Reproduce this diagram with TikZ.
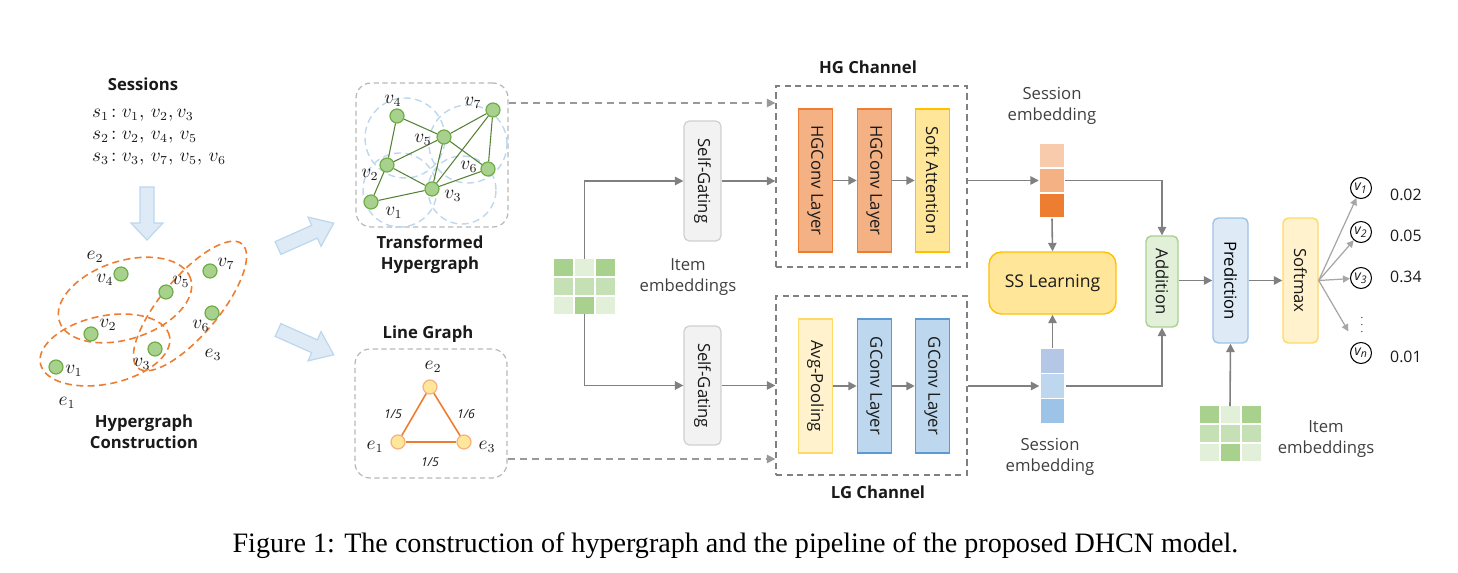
\documentclass[tikz,border=0pt]{standalone}
\usepackage{fontspec}
\setmainfont{Liberation Serif}
\setsansfont{Open Sans}
\usetikzlibrary{arrows.meta,calc}
\definecolor{gfill}{HTML}{A9D18E}
\definecolor{gdraw}{HTML}{70AD47}
\definecolor{gmid}{HTML}{C5E0B4}
\definecolor{glight}{HTML}{E2F0D9}
\definecolor{gedge}{HTML}{548235}
\definecolor{org}{HTML}{ED7D31}
\definecolor{orgmid}{HTML}{F4B183}
\definecolor{orglight}{HTML}{F8CBAD}
\definecolor{yel}{HTML}{FFE699}
\definecolor{yeldraw}{HTML}{FFC000}
\definecolor{yellight}{HTML}{FFF2CC}
\definecolor{yellightdraw}{HTML}{FFD966}
\definecolor{blu}{HTML}{BDD7EE}
\definecolor{bludraw}{HTML}{5B9BD5}
\definecolor{blulight}{HTML}{DEEBF7}
\definecolor{blumid}{HTML}{9DC3E6}
\definecolor{bluvec}{HTML}{B4C7E7}
\definecolor{arrgray}{HTML}{808080}
\definecolor{boxgray}{HTML}{A6A6A6}
\definecolor{sggray}{HTML}{F2F2F2}
\definecolor{sgdraw}{HTML}{D0D0D0}
\definecolor{txt}{HTML}{1A1A1A}
\definecolor{txtlight}{HTML}{404040}
\begin{document}
\begin{tikzpicture}[x=0.02cm,y=-0.02cm,
  font=\sffamily\fontsize{9.5}{12}\selectfont, text=txt,
  arr/.style={draw=arrgray,line width=0.9pt,-{Triangle[length=4.8pt,width=4.8pt]}},
  darr/.style={draw=arrgray!80,line width=0.9pt,dash pattern=on 4pt off 3pt,-{Triangle[length=4.8pt,width=4.8pt]}},
  oarr/.style={draw=boxgray,line width=0.7pt,-{Triangle[length=4pt,width=4pt]}},
  title/.style={font=\sffamily\bfseries\fontsize{9.5}{12}\selectfont,align=center},
  mlbl/.style={font=\fontsize{10.5}{12}\selectfont,inner sep=1pt},
  gn/.style={circle,fill=gfill,draw=gdraw,line width=0.7pt,minimum size=0.28cm,inner sep=0pt},
  yn/.style={circle,fill=yel,draw=orgmid,line width=0.7pt,minimum size=0.28cm,inner sep=0pt},
  hedge/.style={draw=org,line width=0.9pt,dash pattern=on 4pt off 2.5pt},
  bedge/.style={draw=blu,line width=0.8pt,dash pattern=on 4pt off 2.5pt},
  tedge/.style={draw=gedge,line width=0.6pt},
  gbox/.style={draw=boxgray!80,line width=0.7pt,dash pattern=on 3pt off 2pt,rounded corners=0.3cm,inner sep=0pt},
  chbox/.style={draw=arrgray,line width=0.8pt,dash pattern=on 3.5pt off 2.5pt,inner sep=0pt},
  layer/.style={rectangle,line width=0.9pt,minimum width=0.68cm,inner sep=0pt},
  sgbox/.style={rectangle,rounded corners=3pt,fill=sggray,draw=sgdraw,line width=0.7pt,minimum width=0.74cm,inner sep=0pt},
  vcell/.style={rectangle,draw=white,line width=0.8pt,minimum width=0.5cm,minimum height=0.5cm,inner sep=0pt},
  ecell/.style={rectangle,inner sep=0pt,minimum width=0.38cm,minimum height=0.34cm},
  outn/.style={circle,draw=black,line width=0.6pt,minimum size=0.42cm,inner sep=0pt,font=\sffamily\itshape\fontsize{8}{9}\selectfont},
  lbl/.style={text=txtlight,align=center},
  bigarrow/.style={fill=blulight,draw=blu,line width=0.7pt},
  embgrid/.pic={
    \node[ecell,fill=gfill]  (-a1) at (-21,-19) {};
    \node[ecell,fill=glight] (-a2) at (0,-19) {};
    \node[ecell,fill=gfill]  (-a3) at (21,-19) {};
    \node[ecell,fill=gmid]   (-b1) at (-21,0) {};
    \node[ecell,fill=gmid]   (-b2) at (0,0) {};
    \node[ecell,fill=gmid]   (-b3) at (21,0) {};
    \node[ecell,fill=glight] (-c1) at (-21,19) {};
    \node[ecell,fill=gfill]  (-c2) at (0,19) {};
    \node[ecell,fill=glight] (-c3) at (21,19) {};
    \node[inner sep=0pt,minimum width=1.24cm,minimum height=1.1cm] (-box) at (0,0) {};
  }
]
\useasboundingbox (0,0) rectangle (1458,573);

% ---------------- Sessions & hypergraph construction
\node[title] (sess) at (143,84) {Sessions};
\node[anchor=west,mlbl] (s1) at (90,115) {$s_1\!:v_1,\,v_2,v_3$};
\node[anchor=west,mlbl] (s2) at (90,137) {$s_2\!:v_2,\,v_4,\,v_5$};
\node[anchor=west,mlbl] (s3) at (90,159) {$s_3\!:v_3,\,v_7,\,v_5,\,v_6$};
\draw[bigarrow] (140,187) -- (154,187) -- (154,223) -- (163,223) -- (147,240) -- (131,223) -- (140,223) -- cycle;

\draw[hedge,rotate around={18:(125,300)}] (125,300) ellipse (1.38cm and 0.78cm);
\draw[hedge,rotate around={12:(105,350)}] (105,350) ellipse (1.32cm and 0.68cm);
\draw[hedge,rotate around={50:(190,306)}] (190,306) ellipse (1.62cm and 0.58cm);

\node[gn] (hv4) at (121,274) {};
\node[gn] (hv5) at (166,292) {};
\node[gn] (hv7) at (210,271) {};
\node[gn] (hv6) at (212,313) {};
\node[gn] (hv2) at (91,334) {};
\node[gn] (hv3) at (155,349) {};
\node[gn] (hv1) at (56,367) {};
\node[mlbl] (he2) at (95,257) {$e_2$};
\node[mlbl] (lv4) at (105,280) {$v_4$};
\node[mlbl] (lv5) at (181,282) {$v_5$};
\node[mlbl] (lv7) at (226,264) {$v_7$};
\node[mlbl] (lv2) at (108,325) {$v_2$};
\node[mlbl] (lv6) at (201,326) {$v_6$};
\node[mlbl] (he3) at (213,355) {$e_3$};
\node[mlbl] (lv3) at (142,364) {$v_3$};
\node[mlbl] (lv1) at (74,371) {$v_1$};
\node[mlbl] (he1) at (67,403) {$e_1$};
\node[title] (hct) at (144,432) {Hypergraph\\Construction};

% big arrows
\begin{scope}[shift={(278,248)},rotate=24]
\draw[bigarrow] (0,-7) -- (40,-7) -- (40,-16) -- (61,0) -- (40,16) -- (40,7) -- (0,7) -- cycle;
\end{scope}
\begin{scope}[shift={(278,330)},rotate=-24]
\draw[bigarrow] (0,-7) -- (40,-7) -- (40,-16) -- (61,0) -- (40,16) -- (40,7) -- (0,7) -- cycle;
\end{scope}

% ---------------- Transformed hypergraph
\node[gbox,minimum width=3.04cm,minimum height=2.88cm] (thg) at (432,155) {};
\draw[bedge] (405,138) circle (0.8cm);
\draw[bedge] (400,190) circle (0.74cm);
\draw[bedge] (468,144) circle (0.78cm);
\draw[bedge] (462,190) circle (0.68cm);
\node[gn] (th4) at (397,116) {};
\node[gn] (th5) at (444,137) {};
\node[gn] (th7) at (493,110) {};
\node[gn] (th2) at (387,165) {};
\node[gn] (th6) at (488,169) {};
\node[gn] (th3) at (432,189) {};
\node[gn] (th1) at (371,202) {};
\draw[tedge] (th4) -- (th2);
\draw[tedge] (th4) -- (th5);
\draw[tedge] (th5) -- (th2);
\draw[tedge] (th5) -- (th3);
\draw[tedge] (th5) -- (th7);
\draw[tedge] (th5) -- (th6);
\draw[tedge] (th2) -- (th3);
\draw[tedge] (th2) -- (th1);
\draw[tedge] (th1) -- (th3);
\draw[tedge] (th3) -- (th7);
\draw[tedge] (th3) -- (th6);
\draw[tedge] (th7) -- (th6);
\node[mlbl] (tl4) at (393,101) {$v_4$};
\node[mlbl] (tl5) at (423,140) {$v_5$};
\node[mlbl] (tl7) at (473,103) {$v_7$};
\node[mlbl] (tl2) at (370,175) {$v_2$};
\node[mlbl] (tl6) at (469,167) {$v_6$};
\node[mlbl] (tl3) at (453,196) {$v_3$};
\node[mlbl] (tl1) at (394,213) {$v_1$};
\node[title] (tht) at (430,255) {Transformed\\Hypergraph};

% ---------------- Line graph
\node[title] (lgt) at (428,334) {Line Graph};
\node[gbox,minimum width=3.04cm,minimum height=2.58cm] (lgb) at (431,413.5) {};
\node[yn] (le2) at (430,387) {};
\node[yn] (le1) at (398,442) {};
\node[yn] (le3) at (464,442) {};
\draw[draw=org,line width=0.9pt] (le1) -- (le2);
\draw[draw=org,line width=0.9pt] (le2) -- (le3);
\draw[draw=org,line width=0.9pt] (le3) -- (le1);
\node[mlbl] (lge2) at (433,367) {$e_2$};
\node[mlbl] (lge1) at (375,447) {$e_1$};
\node[mlbl] (lge3) at (487,447) {$e_3$};
\node[font=\sffamily\itshape\fontsize{7}{8}\selectfont] (w1) at (393,414) {1/5};
\node[font=\sffamily\itshape\fontsize{7}{8}\selectfont] (w2) at (466,414) {1/6};
\node[font=\sffamily\itshape\fontsize{7}{8}\selectfont] (w3) at (430,462) {1/5};

% ---------------- Channels
\node[chbox,minimum width=3.82cm,minimum height=3.62cm] (hgb) at (871.5,176.5) {};
\node[title] (hgt) at (868,67) {HG Channel};
\node[layer,fill=orgmid,draw=org,minimum height=2.86cm] (hg1) at (815.5,180.5) {\rotatebox{-90}{HGConv Layer}};
\node[layer,fill=orgmid,draw=org,minimum height=2.86cm] (hg2) at (874.5,180.5) {\rotatebox{-90}{HGConv Layer}};
\node[layer,fill=yel,draw=yeldraw,minimum height=2.86cm] (hg3) at (932.5,180.5) {\rotatebox{-90}{Soft Attention}};
\draw[arr] (hg1) -- (hg2);
\draw[arr] (hg2) -- (hg3);

\node[chbox,minimum width=3.82cm,minimum height=3.58cm] (lgbx) at (871.5,385.5) {};
\node[title] (lgct) at (878,492) {LG Channel};
\node[layer,fill=yellight,draw=yellightdraw,minimum height=2.68cm] (lg1) at (815.5,386) {\rotatebox{-90}{Avg-Pooling}};
\node[layer,fill=blu,draw=bludraw,minimum height=2.68cm] (lg2) at (874.5,386) {\rotatebox{-90}{GConv Layer}};
\node[layer,fill=blu,draw=bludraw,minimum height=2.68cm] (lg3) at (932.5,386) {\rotatebox{-90}{GConv Layer}};
\draw[arr] (lg1) -- (lg2);
\draw[arr] (lg2) -- (lg3);

\coordinate (dA) at (0,103);
\coordinate (dB) at (0,459);
\draw[darr] (thg.east |- dA) -- (hgb.west |- dA);
\draw[darr] (lgb.east |- dB) -- (lgbx.west |- dB);

% self gating and item embeddings
\node[sgbox,minimum height=2.4cm] (sg1) at (702.5,181) {\rotatebox{-90}{Self-Gating}};
\node[sgbox,minimum height=2.38cm] (sg2) at (702.5,385.5) {\rotatebox{-90}{Self-Gating}};
\pic (eL) at (584.5,286.5) {embgrid};
\draw[arr] (eL-box.north) |- (sg1.west);
\draw[arr] (eL-box.south) |- (sg2.west);
\draw[arr] (sg1.east) -- (sg1.east -| hgb.west);
\draw[arr] (sg2.east) -- (sg2.east -| lgbx.west);
\node[lbl] (iel) at (688,277) {Item\\embeddings};

% ---------------- Session embeddings
\node[lbl] (se1) at (1052,106) {Session\\embedding};
\node[vcell,fill=orglight] (tv1) at (1052,155.5) {};
\node[vcell,fill=orgmid] (tv2) at (1052,180.5) {};
\node[vcell,fill=org] (tv3) at (1052,205.5) {};
\node[vcell,fill=bluvec] (bv1) at (1052.5,361) {};
\node[vcell,fill=blu] (bv2) at (1052.5,386) {};
\node[vcell,fill=blumid] (bv3) at (1052.5,411) {};
\node[lbl] (se2) at (1050,457) {Session\\embedding};
\node[rectangle,rounded corners=7pt,fill=yel,draw=yeldraw,line width=0.8pt,minimum width=2.54cm,minimum height=1.24cm,font=\sffamily\fontsize{10}{12}\selectfont] (ss) at (1052.5,283) {SS Learning};
\node[rectangle,rounded corners=3pt,fill=glight,draw=gfill,line width=0.8pt,minimum width=0.64cm,minimum height=1.82cm,inner sep=0pt] (add) at (1162,281.5) {\rotatebox{-90}{Addition}};
\node[rectangle,rounded corners=3pt,fill=blulight,draw=blumid,line width=0.8pt,minimum width=0.7cm,minimum height=2.5cm,inner sep=0pt,text=black] (pred) at (1230.5,280.5) {\rotatebox{-90}{Prediction}};
\node[rectangle,rounded corners=3pt,fill=yellight,draw=yellightdraw,line width=0.8pt,minimum width=0.7cm,minimum height=2.5cm,inner sep=0pt] (soft) at (1300.5,280.5) {\rotatebox{-90}{Softmax}};

\draw[arr] (hgb.east |- tv2) -- (tv2.west);
\draw[arr] (tv2.east) -| (add.north);
\draw[arr] (tv3.south) -- (ss.north);
\draw[arr] (bv1.north) -- (ss.south);
\draw[arr] (lgbx.east |- bv2) -- (bv2.west);
\draw[arr] (bv2.east) -| (add.south);
\draw[arr] (add.east |- pred.west) -- (pred.west);
\draw[arr] (pred.east) -- (soft.west);

% outputs
\node[outn] (o1) at (1361,188) {v\textsubscript{1}};
\node[outn] (o2) at (1361,232) {v\textsubscript{2}};
\node[outn] (o3) at (1361,278) {v\textsubscript{3}};
\node[font=\fontsize{6}{7}\selectfont] (odots) at (1362,320) {$\vdots$};
\node[outn] (on) at (1361,353) {v\textsubscript{n}};
\draw[oarr] (soft.east) -- (o1);
\draw[oarr] (soft.east) -- (o2);
\draw[oarr] (soft.east) -- (o3);
\draw[oarr,shorten >=8pt] (soft.east) -- (on);
\node[anchor=west,font=\sffamily\fontsize{9}{11}\selectfont] (p1) at (1384,195) {0.02};
\node[anchor=west,font=\sffamily\fontsize{9}{11}\selectfont] (p2) at (1384,236) {0.05};
\node[anchor=west,font=\sffamily\fontsize{9}{11}\selectfont] (p3) at (1384,277) {0.34};
\node[anchor=west,font=\sffamily\fontsize{9}{11}\selectfont] (pn) at (1384,357) {0.01};

\pic (eR) at (1230,434) {embgrid};
\draw[arr] (eR-box.north) -- (pred.south);
\node[lbl] (ier) at (1326,439) {Item\\embeddings};

% caption
\node[font=\rmfamily\fontsize{16}{18}\selectfont,text=black] (cap) at (735.5,546) {Figure 1: The construction of hypergraph and the pipeline of the proposed DHCN model.};
\end{tikzpicture}
\end{document}
